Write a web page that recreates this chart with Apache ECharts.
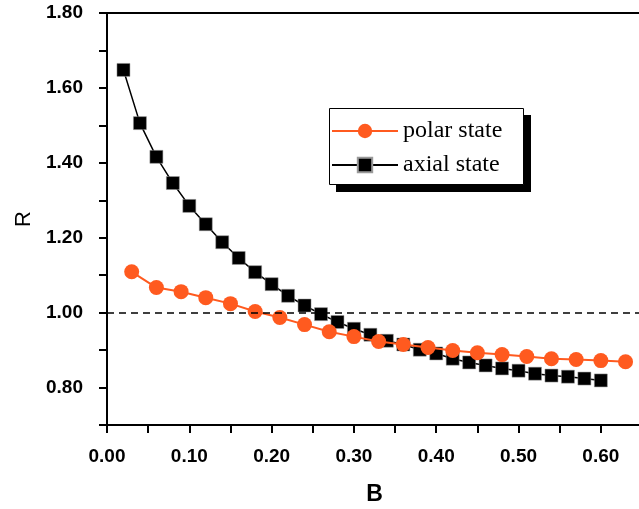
<!DOCTYPE html>
<html>
<head>
<meta charset="utf-8">
<script src="https://cdn.jsdelivr.net/npm/echarts@6/dist/echarts.min.js"></script>
<style>html,body{margin:0;padding:0;background:#fff;}#c{width:639px;height:509px;}</style>
</head>
<body>
<div id="c"></div>
<script>
var polarB = [0.03,0.06,0.09,0.12,0.15,0.18,0.21,0.24,0.27,0.30,0.33,0.36,0.39,0.42,0.45,0.48,0.51,0.54,0.57,0.60,0.63];
var polarR = [1.109,1.067,1.056,1.040,1.024,1.003,0.987,0.968,0.949,0.936,0.923,0.915,0.907,0.899,0.893,0.888,0.883,0.877,0.875,0.872,0.869];
var axialB = [0.02,0.04,0.06,0.08,0.10,0.12,0.14,0.16,0.18,0.20,0.22,0.24,0.26,0.28,0.30,0.32,0.34,0.36,0.38,0.40,0.42,0.44,0.46,0.48,0.50,0.52,0.54,0.56,0.58,0.60];
var axialR = [1.648,1.506,1.416,1.346,1.285,1.236,1.188,1.146,1.108,1.076,1.045,1.019,0.996,0.975,0.957,0.941,0.925,0.915,0.901,0.891,0.877,0.867,0.859,0.851,0.845,0.837,0.832,0.829,0.824,0.819];
var refLineR = 1.0;
var seriesNames = ['polar state','axial state'];

function pairs(xs, ys){ return xs.map(function(x,i){ return [x, ys[i]]; }); }

var axisLabelFont = {color:'#000', fontFamily:'Liberation Sans', fontWeight:'bold', fontSize:19};

var chart = echarts.init(document.getElementById('c'), null, {renderer:'canvas'});
chart.setOption({
  animation:false,
  backgroundColor:'#fff',
  grid:{left:107, top:13, width:535, height:412, show:false, outerBoundsMode:'none', containLabel:false},
  graphic:[
    {type:'rect', z:50, silent:true, shape:{x:336, y:115, width:195, height:77}, style:{fill:'#000'}},
    {type:'rect', z:51, silent:true, shape:{x:329.5, y:108.5, width:194, height:76}, style:{fill:'#fff', stroke:'#000', lineWidth:1}}
  ],
  legend:{
    data:[seriesNames[0], seriesNames[1]],
    orient:'vertical', left:331, top:119,
    padding:0, z:60,
    itemWidth:66, itemHeight:18, itemGap:10,
    textStyle:{fontFamily:'Liberation Serif', fontSize:24, color:'#000', lineHeight:24}
  },
  xAxis:[{
    type:'value', min:0, max:0.65, interval:0.05,
    name:'B', nameLocation:'middle', nameGap:58,
    nameTextStyle:{fontFamily:'Liberation Sans', fontWeight:'bold', fontSize:23, color:'#000'},
    axisLine:{show:true, onZero:false, lineStyle:{color:'#000', width:2}},
    axisTick:{show:true, inside:false, length:8, lineStyle:{color:'#000', width:2}},
    splitLine:{show:false},
    axisLabel:Object.assign({margin:22,
      formatter:function(v){ return Math.round(v*100)%10===0 ? v.toFixed(2) : ''; }}, axisLabelFont)
  },{
    type:'value', min:0, max:0.65, position:'top',
    axisLine:{show:true, onZero:false, lineStyle:{color:'#000', width:2}},
    axisTick:{show:false}, axisLabel:{show:false}, splitLine:{show:false}
  }],
  yAxis:{
    type:'value', min:0.7, max:1.8, interval:0.1,
    name:'R', nameLocation:'middle', nameGap:70, nameRotate:90,
    nameTextStyle:{fontFamily:'Liberation Sans', fontSize:22, color:'#000'},
    axisLine:{show:true, onZero:false, lineStyle:{color:'#000', width:2}},
    axisTick:{show:true, inside:false, length:8, lineStyle:{color:'#000', width:2}},
    splitLine:{show:false},
    axisLabel:Object.assign({margin:24,
      formatter:function(v){ return Math.round(v*10)%2===0 ? v.toFixed(2) : ''; }}, axisLabelFont)
  },
  series:[
    {
      name:seriesNames[1], type:'line', data:pairs(axialB, axialR),
      symbol:'rect', symbolSize:13, showSymbol:true,
      itemStyle:{color:'#000', borderColor:'#999', borderWidth:0.5},
      lineStyle:{color:'#000', width:1.5}, z:2,
      markLine:{silent:true, symbol:'none', label:{show:false},
        lineStyle:{color:'#000', type:[7,5], width:1.5},
        data:[{yAxis:refLineR}]}
    },
    {
      name:seriesNames[0], type:'line', data:pairs(polarB, polarR),
      symbol:'circle', symbolSize:15, showSymbol:true,
      itemStyle:{color:'#ff5a1f'},
      lineStyle:{color:'#ff5a1f', width:2}, z:3
    }
  ]
});
</script>
</body>
</html>
